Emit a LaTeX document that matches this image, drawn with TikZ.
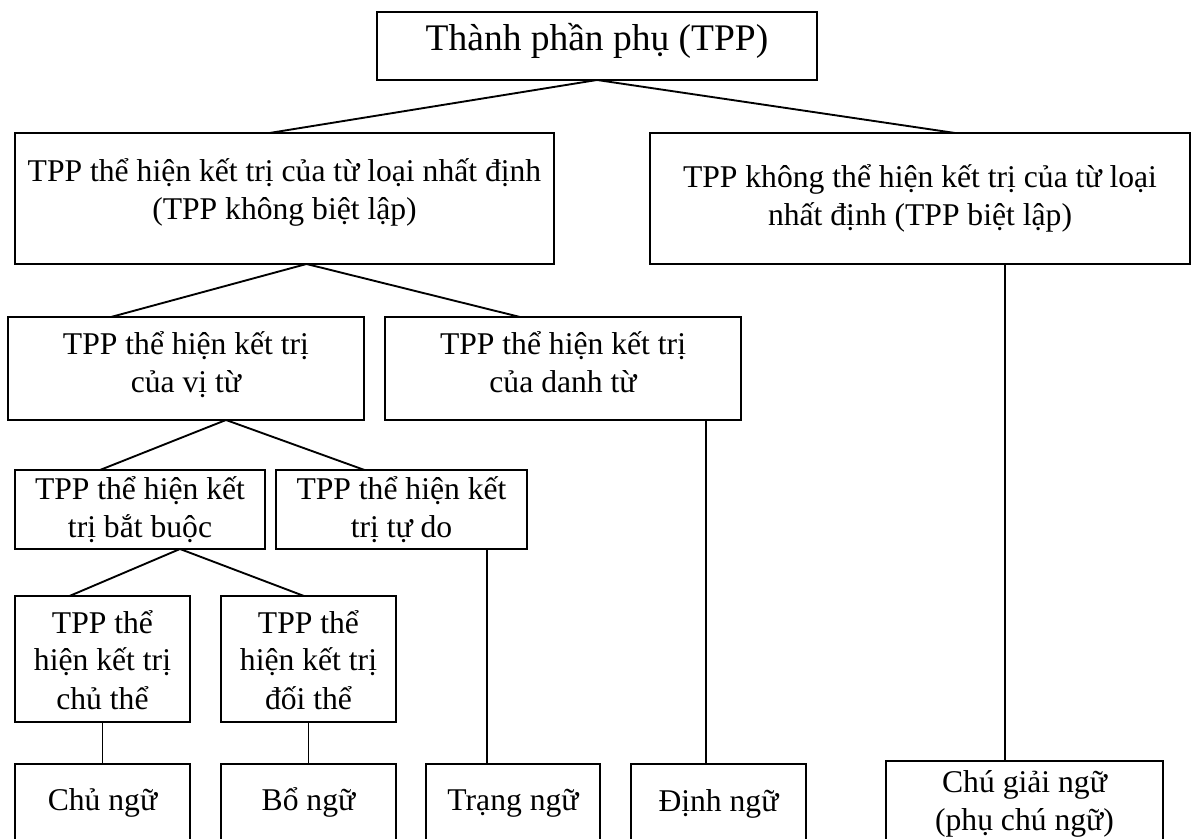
\documentclass[tikz,border=0pt]{standalone}
\usepackage{fontspec}
\setmainfont{Liberation Serif}
\usetikzlibrary{calc}
\newlength{\pxu}
\setlength{\pxu}{0.015cm}
% width, height, first baseline, text
\newcommand{\boxtxt}[4]{\parbox[c][#2\pxu][t]{#1\pxu}{\centering\fontsize{13.5}{38\pxu}\selectfont\rule{0pt}{#3\pxu}#4}}
\tikzset{
    tbox/.style={rectangle, draw=black, line width=0.8pt, inner sep=0pt, outer sep=0pt},
    link/.style={line width=0.8pt},
}

\begin{document}
\begin{tikzpicture}[x=0.015cm, y=-0.015cm]
        \useasboundingbox (0,0) rectangle (1192,839);
        \clip (0,0) rectangle (1192,839);
        % root
        \node[tbox] (top) at (597,46) {\boxtxt{440}{68}{39}{{\fontsize{16}{20}\selectfont Thành phần phụ (TPP)}}};
        % second level
        \node[tbox] (left2) at (284.5,198.5) {\boxtxt{539}{131}{49}{TPP thể hiện kết trị của từ loại nhất định\\(TPP không biệt lập)}};
        \node[tbox] (right2) at (920,198.5) {\boxtxt{540}{131}{55}{TPP không thể hiện kết trị của từ loại\\nhất định (TPP biệt lập)}};
        % third level
        \node[tbox] (vitu) at (186,368.5) {\boxtxt{356}{103}{38}{TPP thể hiện kết trị\\của vị từ}};
        \node[tbox] (danhtu) at (563,368.5) {\boxtxt{356}{103}{38}{TPP thể hiện kết trị\\của danh từ}};
        % fourth level
        \node[tbox] (batbuoc) at (140,509.5) {\boxtxt{250}{79}{30}{TPP thể hiện kết\\trị bắt buộc}};
        \node[tbox] (tudo) at (401.5,509.5) {\boxtxt{251}{79}{30}{TPP thể hiện kết\\trị tự do}};
        % fifth level
        \node[tbox] (chuthe) at (102.5,659) {\boxtxt{175}{126}{37}{TPP thể\\hiện kết trị\\chủ thể}};
        \node[tbox] (doithe) at (308.5,659) {\boxtxt{175}{126}{37}{TPP thể\\hiện kết trị\\đối thể}};
        % bottom row
        \node[tbox] (chungu) at (102.5,814) {\boxtxt{175}{100}{46}{Chủ ngữ}};
        \node[tbox] (bongu) at (308.5,814) {\boxtxt{175}{100}{46}{Bổ ngữ}};
        \node[tbox] (trangngu) at (513,814) {\boxtxt{174}{100}{46}{Trạng ngữ}};
        \node[tbox] (dinhngu) at (718.5,814) {\boxtxt{175}{100}{47}{Định ngữ}};
        \node[tbox] (chugiai) at (1024.5,811) {\boxtxt{277}{100}{31}{Chú giải ngữ\\(phụ chú ngữ)}};

        % links
        \draw[link] (top.south) -- ($(left2.north)+(-15,0)$);
        \draw[link] (top.south) -- ($(right2.north)+(35,0)$);
        \draw[link] ($(left2.south)+(22,0)$) -- ($(vitu.north)+(-75,0)$);
        \draw[link] ($(left2.south)+(22,0)$) -- ($(danhtu.north)+(-43,0)$);
        \draw[link] ($(right2.south)+(85,0)$) -- ($(chugiai.north)+(-19.5,0)$);
        \draw[link] ($(vitu.south)+(40,0)$) -- ($(batbuoc.north)+(-40,0)$);
        \draw[link] ($(vitu.south)+(40,0)$) -- ($(tudo.north)+(-37,0)$);
        \draw[link] ($(danhtu.south)+(143,0)$) -- ($(dinhngu.north)+(-12.5,0)$);
        \draw[link] ($(batbuoc.south)+(40,0)$) -- ($(chuthe.north)+(-33,0)$);
        \draw[link] ($(batbuoc.south)+(40,0)$) -- ($(doithe.north)+(-4.5,0)$);
        \draw[link] ($(tudo.south)+(85.5,0)$) -- ($(trangngu.north)+(-26,0)$);
        \draw[link] (chuthe.south) -- (chungu.north);
        \draw[link] (doithe.south) -- (bongu.north);
\end{tikzpicture}
\end{document}
